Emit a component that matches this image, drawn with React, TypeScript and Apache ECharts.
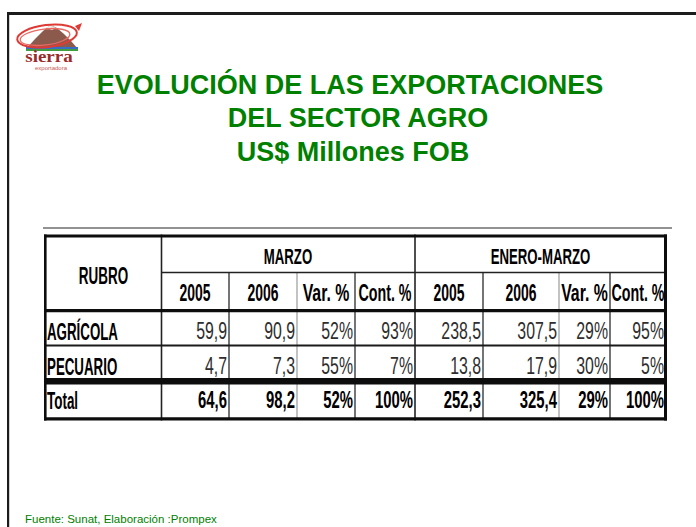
import React, { useEffect, useRef } from "react";
import * as echarts from "echarts";

// ---- data ----
const titleLines = ["EVOLUCIÓN DE LAS EXPORTACIONES", "DEL SECTOR AGRO", "US$ Millones FOB"];
const sourceNote = "Fuente: Sunat, Elaboración :Prompex";
const rowHeader = "RUBRO";
const periods = ["MARZO", "ENERO-MARZO"];
const subHeaders = ["2005", "2006", "Var. %", "Cont. %"];
const rubros = ["AGRÍCOLA", "PECUARIO"];
const totalLabel = "Total";

const marzo2005 = [59.9, 4.7];
const marzo2006 = [90.9, 7.3];
const marzoVar = [52, 55];
const marzoCont = [93, 7];
const eneMar2005 = [238.5, 13.8];
const eneMar2006 = [307.5, 17.9];
const eneMarVar = [29, 30];
const eneMarCont = [95, 5];

const totalMarzo = [64.6, 98.2, 52, 100];
const totalEneMar = [252.3, 325.4, 29, 100];

// ---- layout ----
const COLS = [44, 161, 229, 297, 355, 415, 483, 559, 610, 666];
const ROW_Y = [331, 366, 400]; // text centers of data rows
const GREEN = "#008000";
const FONT = "'Liberation Sans', Arial, sans-serif";

const fmtNum = (v: number) => v.toFixed(1).replace(".", ",");
const fmtPct = (v: number) => `${v}%`;

function txt(
  text: string,
  x: number,
  y: number,
  opts: { size: number; weight?: string; align?: string; fill?: string; sx?: number; family?: string }
) {
  return {
    type: "text",
    x,
    y,
    scaleX: opts.sx ?? 1,
    scaleY: 1,
    silent: true,
    style: {
      text,
      fill: opts.fill ?? "#000",
      fontSize: opts.size,
      fontWeight: opts.weight ?? "normal",
      fontFamily: opts.family ?? FONT,
      align: opts.align ?? "left",
      textAlign: opts.align ?? "left",
      verticalAlign: "middle",
      textVerticalAlign: "middle",
    },
  };
}

function rect(x: number, y: number, w: number, h: number, fill: string) {
  return { type: "rect", silent: true, shape: { x, y, width: w, height: h }, style: { fill } };
}

function line(x1: number, y1: number, x2: number, y2: number, w: number, stroke: string) {
  return { type: "line", silent: true, shape: { x1, y1, x2, y2 }, style: { stroke, lineWidth: w } };
}

function buildGraphics() {
  const g: any[] = [];

  // slide frame
  g.push(rect(7, 12, 689, 3, "#1c1c1c"));
  g.push(rect(7, 12, 2.2, 515, "#1c1c1c"));

  // logo
  g.push({
    type: "polygon",
    silent: true,
    shape: { points: [[26, 49], [35, 39], [43, 31], [50, 25], [57, 28], [64, 34], [71, 41], [78, 49]] },
    style: { fill: "#8c5a4c" },
  });
  g.push({
    type: "polygon",
    silent: true,
    shape: { points: [[46, 28], [50, 25], [56, 28], [52, 30], [49, 29]] },
    style: { fill: "#f2ece8" },
  });
  g.push(rect(26, 47, 52, 2, "#3b6cc4"));
  g.push(rect(26, 49, 52, 2, "#3f9c3f"));
  g.push({
    type: "ellipse",
    silent: true,
    shape: { cx: 47, cy: 36, rx: 30, ry: 11 },
    rotation: 0.12,
    originX: 47,
    originY: 36,
    style: { fill: "none", stroke: "#df3b36", lineWidth: 2 },
  });
  g.push({
    type: "ellipse",
    silent: true,
    shape: { cx: 45, cy: 37, rx: 25, ry: 8 },
    rotation: 0.12,
    originX: 45,
    originY: 37,
    style: { fill: "none", stroke: "#e86a63", lineWidth: 1.3 },
  });
  g.push({
    type: "polygon",
    silent: true,
    shape: { points: [[75, 26], [82, 23], [79, 31]] },
    style: { fill: "#df3b36" },
  });
  g.push(txt("sierra", 49, 56, { size: 17, weight: "bold", align: "center", fill: "#9a2b2b", sx: 1.12, family: "'Liberation Serif', 'DejaVu Serif', serif" }));
  g.push(txt("exportadora", 51, 67.5, { size: 6, align: "center", fill: "#c65a55" }));

  // title
  const titleX = [350, 358, 353];
  const titleY = [85, 118, 152];
  titleLines.forEach((t, i) => g.push(txt(t, titleX[i], titleY[i], { size: 27, weight: "bold", align: "center", fill: GREEN })));

  // footer
  g.push(txt(sourceNote, 25, 519, { size: 11.5, fill: GREEN }));

  // thin grey rule above the table
  g.push(line(43, 228, 672, 228, 1.4, "#6e6e6e"));

  const L = COLS[0];
  const R = COLS[COLS.length - 1];
  const top = 234.5;
  const bottom = 420.5;

  // inner vertical separators
  const inner = [2, 3, 4, 6, 7, 8];
  inner.forEach((ci) => {
    const light = ci === 3 || ci === 7;
    g.push(line(COLS[ci], 272, COLS[ci], bottom - 2, light ? 1.2 : 1.3, light ? "#9a9a9a" : "#2a2a2a"));
  });
  g.push(line(COLS[1] + 0.5, top, COLS[1] + 0.5, bottom, 1.6, "#222"));
  g.push(line(COLS[5], top, COLS[5], bottom, 1.6, "#222"));
  // header row divider
  g.push(line(COLS[1], 272.5, R, 272.5, 1.3, "#222"));

  // thick borders
  g.push(rect(L, top, R - L + 1, 3, "#0d0d0d"));
  g.push(rect(L, 309, R - L + 1, 3.2, "#0d0d0d"));
  g.push(rect(L, 344.6, R - L + 1, 2, "#1a1a1a"));
  g.push(rect(L, 378, R - L + 1, 6.4, "#0d0d0d"));
  g.push(rect(L, 417.3, R - L + 1, 3.2, "#0d0d0d"));
  g.push(rect(L, top, 2.6, bottom - top, "#0d0d0d"));
  g.push(rect(R - 2, top, 3, bottom - top, "#0d0d0d"));

  // headers
  g.push(txt(rowHeader, (COLS[0] + COLS[1]) / 2 + 1, 275, { size: 24, weight: "bold", align: "center", sx: 0.56 }));
  g.push(txt(periods[0], (COLS[1] + COLS[5]) / 2, 257, { size: 22, weight: "bold", align: "center", sx: 0.6 }));
  g.push(txt(periods[1], (COLS[5] + COLS[9]) / 2, 257, { size: 22, weight: "bold", align: "center", sx: 0.6 }));
  const subSx = [0.58, 0.58, 0.66, 0.595];
  [0, 1].forEach((p) => {
    subHeaders.forEach((s, i) => {
      const c = 1 + p * 4 + i;
      const cx = (COLS[c] + COLS[c + 1]) / 2 + (i >= 2 ? 0 : 0);
      g.push(txt(s, cx, 292.5, { size: 24, weight: "bold", align: "center", sx: subSx[i] }));
    });
  });

  // body rows
  const cols = [marzo2005, marzo2006, marzoVar, marzoCont, eneMar2005, eneMar2006, eneMarVar, eneMarCont];
  rubros.forEach((r, ri) => {
    g.push(txt(r, 47, ROW_Y[ri], { size: 24, weight: "bold", sx: 0.555 }));
    cols.forEach((arr, ci) => {
      const isPct = ci % 4 >= 2;
      const v = isPct ? fmtPct(arr[ri]) : fmtNum(arr[ri]);
      g.push(txt(v, COLS[ci + 2] - 2, ROW_Y[ri], { size: 24, align: "right", sx: 0.66, fill: "#2e2e2e" }));
    });
  });

  // total row
  g.push(txt(totalLabel, 47, ROW_Y[2], { size: 24, weight: "bold", sx: 0.56 }));
  [...totalMarzo, ...totalEneMar].forEach((v, ci) => {
    const isPct = ci % 4 >= 2;
    const s = isPct ? fmtPct(v) : fmtNum(v);
    g.push(txt(s, COLS[ci + 2] - 2, ROW_Y[2], { size: 24, weight: "bold", align: "right", sx: 0.62 }));
  });

  return g;
}

export default function App() {
  const ref = useRef<HTMLDivElement>(null);
  useEffect(() => {
    if (!ref.current) return;
    const chart = echarts.init(ref.current, undefined, { renderer: "svg" });
    chart.setOption({
      animation: false,
      backgroundColor: "#ffffff",
      graphic: { elements: buildGraphics() },
    });
    return () => chart.dispose();
  }, []);
  return (
    <div
      ref={ref}
      style={{ position: "absolute", left: 0, top: 0, width: 696, height: 527, background: "#fff" }}
    />
  );
}
